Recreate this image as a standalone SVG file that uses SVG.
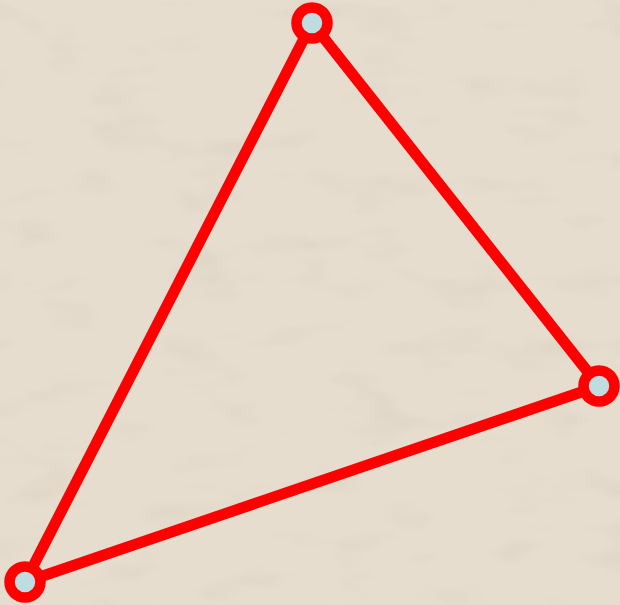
<svg xmlns="http://www.w3.org/2000/svg" width="620" height="605" viewBox="0 0 620 605">
  <defs>
    <filter id="tex" x="0" y="0" width="100%" height="100%">
      <feTurbulence type="fractalNoise" baseFrequency="0.012 0.03" numOctaves="3" seed="7" result="n"/>
      <feColorMatrix in="n" type="matrix" values="0 0 0 0 0.55  0 0 0 0 0.5  0 0 0 0 0.42  0 0 0 -1.6 0.75" />
    </filter>
    <style>
      .edge { stroke: #ff0000; stroke-width: 11; stroke-linecap: round; fill: none; }
      .node { fill: #bfdde0; stroke: #ff0000; stroke-width: 10.5; }
    </style>
  </defs>
  <rect width="620" height="605" fill="#e6ddcf"/>
  <rect width="620" height="605" filter="url(#tex)" opacity="0.35"/>
  <g id="connectors">
    <line class="edge" x1="312" y1="23" x2="599" y2="386"/>
    <line class="edge" x1="599" y1="386" x2="25" y2="582"/>
    <line class="edge" x1="25" y1="582" x2="312" y2="23"/>
  </g>
  <g id="node-a"><circle class="node" cx="312" cy="23" r="15.5"/></g>
  <g id="node-b"><circle class="node" cx="599" cy="386" r="15.5"/></g>
  <g id="node-c"><circle class="node" cx="25" cy="582" r="15.5"/></g>
</svg>
